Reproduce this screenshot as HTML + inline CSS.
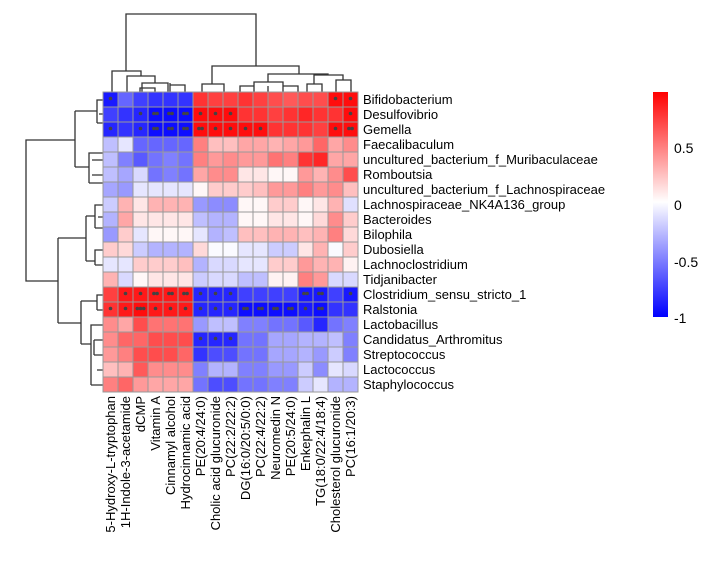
<!DOCTYPE html>
<html><head><meta charset="utf-8"><style>
html,body{margin:0;padding:0;background:#fff;}
svg{display:block;font-family:"Liberation Sans",Arial,sans-serif;}
</style></head><body>
<svg id="s" width="711" height="568" xmlns="http://www.w3.org/2000/svg">
<defs><linearGradient id="cb" x1="0" y1="1" x2="0" y2="0">
<stop offset="0" stop-color="#0000ff"/><stop offset="0.512" stop-color="#ffffff"/><stop offset="1" stop-color="#ff0000"/></linearGradient></defs>
<rect x="653" y="92" width="15" height="225" fill="url(#cb)"/>
<g font-size="14" fill="#000">
<text x="674" y="153">0.5</text><text x="674" y="210">0</text><text x="674" y="267">-0.5</text><text x="674" y="323">-1</text>
</g>
<g stroke="#333" stroke-width="1.3" fill="none">
<path d="M126,71V14H256V66 M112,92V71H141V76 M127,92V76H155V83 M142,92V83H168V92 M142,83 V88 M140,92V88H155V92 M170,92V85H185V92 M170,85V83"/>
<path d="M212,84V66H299V74 M202,92V84H224V92 M268,82V74H328V75 M254,92V82H283V92 M240,92V86H254 M314,84V75H343V80 M307,92V84H322V92 M336,92V80H351V92 M268,92V86 M283,86H298V92"/>
<path d="M75,140H26V281H58 M75,111V167 M75,111H97V100H103 M97,123H103 M97,111V123 M99,114H103 M75,167H89V153H103 M89,183H103 M89,153V183 M92,160H103 M92,175H103"/>
<path d="M58,238V323 M58,238H86 M86,216V261 M86,216H95V205H103 M95,228H103 M95,205V228 M98,217H103 M86,261H95V250H103 M95,265H103 M95,250V265"/>
<path d="M58,323H81 M81,301V344 M81,301H97V295H103 M97,310H103 M97,295V310 M81,344H91V325H103 M91,385H103 M91,325V385 M94,340H103 M94,355H103 M97,370H103 M94,340V355"/>
</g>
<g id="hm"></g>
</svg>
<script>
var R=[
["Bifidobacterium",[-0.9,-0.6,-0.75,-0.8,-0.8,-0.8,.8,.75,.75,.8,.75,.7,.65,.7,.7,.95,.95],[1,0,0,0,0,0,0,0,0,0,0,0,0,0,0,1,1]],
["Desulfovibrio",[-0.75,-0.8,-0.85,-0.95,-0.95,-0.95,.95,.95,.95,.8,.8,.75,.8,.85,.8,.8,.95],[0,0,1,2,2,2,1,1,1,0,0,0,0,0,0,0,1]],
["Gemella",[-0.85,-0.8,-0.85,-0.95,-0.95,-0.95,.95,.95,.95,.95,.95,.8,.8,.8,.75,.95,.95],[1,0,1,2,2,2,2,1,1,1,1,0,0,0,0,1,2]],
["Faecalibaculum",[-0.25,-0.1,-0.6,-0.6,-0.6,-0.6,.5,.25,.25,.35,.35,.3,.35,.4,.6,.35,.45]],
["uncultured_bacterium_f_Muribaculaceae",[-0.25,-0.5,-0.65,-0.55,-0.5,-0.55,.5,.4,.45,.4,.4,.55,.5,.8,.85,.35,.35]],
["Romboutsia",[-0.25,-0.35,-0.15,-0.55,-0.5,-0.55,.35,.45,.45,.1,.1,.03,.03,.4,.3,.45,.7]],
["uncultured_bacterium_f_Lachnospiraceae",[-0.35,-0.4,-0.1,-0.1,-0.1,-0.1,.03,.2,.2,.2,.25,.4,.4,.5,.4,.45,.25]],
["Lachnospiraceae_NK4A136_group",[-0.2,.3,.1,.3,.3,.3,-0.4,-0.45,-0.45,.03,.03,.2,.2,.03,.1,.3,-0.12]],
["Bacteroides",[-0.3,.35,.1,.1,.1,.1,-0.25,-0.3,-0.3,.03,.03,.1,.1,.03,.15,.45,.2]],
["Bilophila",[-0.4,.2,-0.1,.03,.03,.03,-0.1,-0.3,-0.25,.25,.25,.3,.3,.25,.3,.5,.15]],
["Dubosiella",[.2,.15,-0.2,-0.3,-0.3,-0.3,.15,-0.02,-0.02,-0.1,-0.1,-0.2,-0.2,.1,.3,-0.02,.2]],
["Lachnoclostridium",[-0.1,-0.1,.2,.2,.2,.25,-0.3,-0.15,-0.15,-0.1,-0.1,.2,.2,.4,.3,.3,.05]],
["Tidjanibacter",[.3,-0.15,.03,.1,.1,.1,-0.2,-0.15,-0.15,-0.25,-0.25,.05,.05,.5,.4,-0.15,-0.15]],
["Clostridium_sensu_stricto_1",[.75,.9,.9,.9,.9,.9,-0.85,-0.85,-0.85,-0.75,-0.75,-0.75,-0.75,-0.9,-0.9,-0.75,-0.9],[0,1,1,2,2,2,1,1,1,0,0,0,0,2,2,0,1]],
["Ralstonia",[.8,.9,.95,.9,.9,.9,-0.85,-0.85,-0.85,-0.95,-0.95,-0.95,-0.95,-0.9,-0.95,-0.8,-0.8],[1,1,3,1,1,1,1,1,1,2,2,2,2,1,2,0,0]],
["Lactobacillus",[.45,.35,.7,.55,.55,.55,-0.4,-0.25,-0.25,-0.5,-0.5,-0.55,-0.55,-0.65,-0.85,-0.55,-0.5]],
["Candidatus_Arthromitus",[.45,.6,.6,.7,.7,.7,-0.85,-0.85,-0.85,-0.55,-0.55,-0.35,-0.35,-0.3,-0.3,-0.25,-0.5],[0,0,0,0,0,0,1,1,1,0,0,0,0,0,0,0,0]],
["Streptococcus",[.4,.5,.7,.7,.7,.6,-0.8,-0.7,-0.7,-0.55,-0.55,-0.35,-0.35,-0.3,-0.4,-0.2,-0.5]],
["Lactococcus",[.25,.3,.65,.45,.45,.45,-0.5,-0.3,-0.3,-0.5,-0.5,-0.4,-0.4,-0.2,-0.45,-0.1,-0.15]],
["Staphylococcus",[.5,.6,.4,.35,.35,.35,-0.55,-0.7,-0.7,-0.55,-0.55,-0.5,-0.5,-0.2,-0.1,-0.3,-0.3]]];
var C=["5-Hydroxy-L-tryptophan","1H-Indole-3-acetamide","dCMP","Vitamin A","Cinnamyl alcohol","Hydrocinnamic acid","PE(20:4/24:0)","Cholic acid glucuronide","PC(22:2/22:2)","DG(16:0/20:5/0:0)","PC(22:4/22:2)","Neuromedin N","PE(20:5/24:0)","Enkephalin L","TG(18:0/22:4/18:4)","Cholesterol glucuronide","PC(16:1/20:3)"];
function col(v){var t=Math.round(255*(1-Math.abs(v)));return v>=0?"rgb(255,"+t+","+t+")":"rgb("+t+","+t+",255)";}
var h="",x0=103,y0=92,w=15;
R.forEach(function(r,i){r[1].forEach(function(v,j){
h+='<rect x="'+(x0+j*w)+'" y="'+(y0+i*w)+'" width="15" height="15" fill="'+col(v)+'" stroke="#999" stroke-width="1"/>';});
h+='<text x="363" y="'+(y0+i*w+12)+'" font-size="13">'+r[0]+'</text>';});
R.forEach(function(r,i){if(!r[2])return;r[2].forEach(function(s,j){if(!s)return;
var cx=x0+j*w+7.5,cy=y0+i*w+6.5,sp=3.2;for(var k=0;k<s;k++){var px=cx+(k-(s-1)/2)*sp;
h+='<circle cx="'+px+'" cy="'+cy+'" r="1.8" fill="#444"/>';}});});
C.forEach(function(c,j){var cx=x0+j*w+12;h+='<text transform="translate('+cx+',396) rotate(-90)" text-anchor="end" font-size="13">'+c+'</text>';});
document.getElementById("hm").innerHTML=h;
</script>
</body></html>
